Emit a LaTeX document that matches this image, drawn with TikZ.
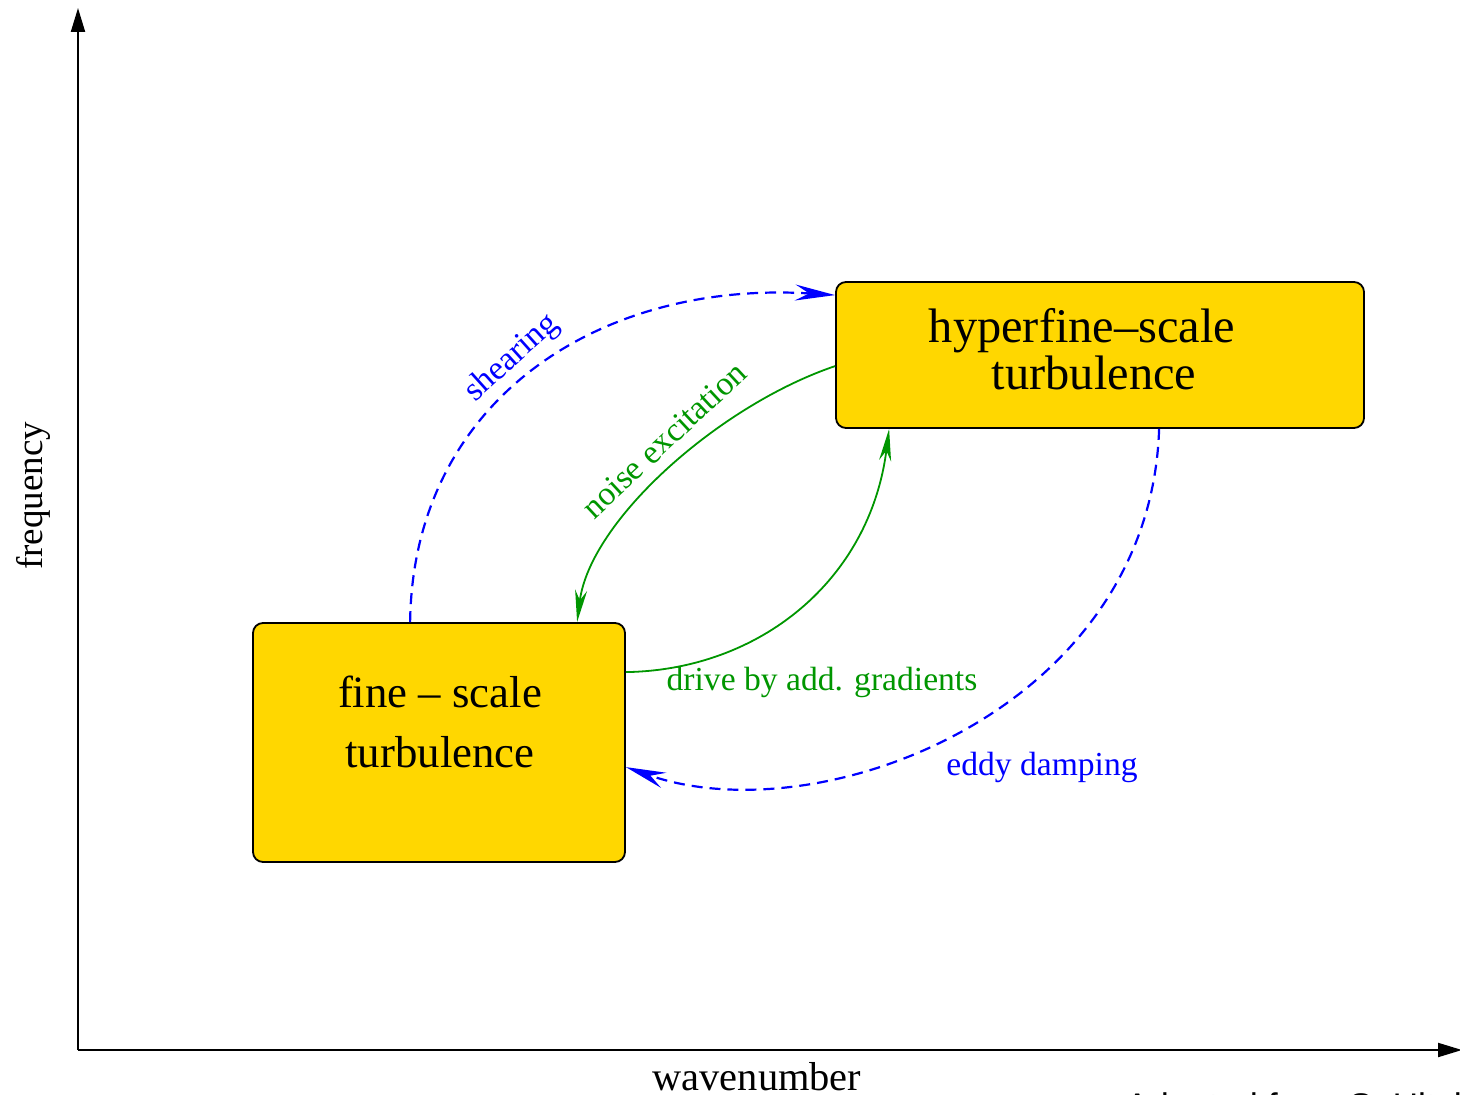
\documentclass[tikz,border=0pt]{standalone}
\usepackage{fontspec}
\setmainfont{Liberation Serif}
\newfontfamily\adaptfont{Liberation Sans}
\usetikzlibrary{arrows.meta}
\definecolor{boxgold}{RGB}{255,215,0}
\definecolor{linkgreen}{RGB}{0,150,0}
\definecolor{linkblue}{RGB}{0,0,255}
\begin{document}
\begin{tikzpicture}[x=0.5pt,y=-0.5pt,
  box/.style={draw=black, line width=0.9pt, fill=boxgold, rounded corners=5pt, inner sep=0pt},
  boxtext/.style={inner sep=0pt, anchor=base},
  lab/.style={inner sep=0pt, font=\fontsize{16.8}{20}\selectfont},
  axis/.style={draw=black, line width=1pt, -{Triangle[length=12pt,width=7pt]}},
  bluelink/.style={draw=linkblue, line width=1.1pt, dash pattern=on 5.5pt off 3.5pt,
    -{Stealth[length=20pt,width=8pt,inset=7pt]}},
  greenlink/.style={draw=linkgreen, line width=0.9pt,
    -{Stealth[length=16pt,width=6pt,inset=5pt]}}]
\useasboundingbox (0,0) rectangle (1460,1095);
\clip (0,0) rectangle (1460,1095);
% axes
\coordinate (origin) at (78,1050);
\coordinate (ytop) at (78,8);
\coordinate (xend) at (1462,1050);
\draw[axis] (origin) -- (ytop);
\draw[axis] (origin) -- (xend);
\node[inner sep=0pt, rotate=90, anchor=base, font=\fontsize{18.5}{22}\selectfont] (freq) at (42,496) {frequency};
\node[inner sep=0pt, anchor=base, font=\fontsize{20.2}{24}\selectfont] (wave) at (757,1090) {wavenumber};
\node[inner sep=0pt, anchor=base west, font=\adaptfont\fontsize{17.8}{21}\selectfont] (adapt) at (1125,1118) {Adapted from S. Hitchcock};
% boxes
\node[box, minimum width=186pt, minimum height=119.5pt] (fine) at (439,742.5) {};
\node[box, minimum width=264pt, minimum height=73pt] (hyper) at (1100,355) {};
\node[boxtext, font=\fontsize{22.4}{27}\selectfont] (fineA) at (440,707) {fine -- scale};
\node[boxtext, font=\fontsize{22.4}{27}\selectfont] (fineB) at (440,767) {turbulence};
\node[boxtext, font=\fontsize{24.2}{29}\selectfont] (hypA) at (1082,343) {hyperfine--scale};
\node[boxtext, font=\fontsize{24.2}{29}\selectfont] (hypB) at (1094,390) {turbulence};
% connector end points
\coordinate (shS) at ([xshift=79pt]fine.north west);
\coordinate (shE) at ([yshift=-7pt]hyper.north west);
\coordinate (neS) at ([yshift=-42.5pt]hyper.north west);
\coordinate (neE) at ([xshift=162.5pt]fine.north west);
\coordinate (drS) at ([yshift=-25pt]fine.north east);
\coordinate (drE) at ([xshift=27pt]hyper.south west);
\coordinate (edS) at ([xshift=162pt]hyper.south west);
\coordinate (edE) at ([yshift=-72.5pt]fine.north east);
% connectors
\draw[bluelink] (shS) .. controls (413,400) and (600,280) .. (shE);
\draw[greenlink] (neS) .. controls (720,405) and (590,520) .. (neE);
\draw[greenlink] (drS) .. controls (760,670) and (870,580) .. (drE);
\draw[bluelink] (edS) .. controls (1150,710) and (820,835) .. (edE);
% labels
\node[lab, text=linkblue, rotate=42] (shlab) at (512,358) {shearing};
\node[lab, text=linkgreen, rotate=43] (nelab) at (664,440) {noise excitation};
\node[lab, text=linkgreen, anchor=base] (drlab) at (822,690) {drive by add. gradients};
\node[lab, text=linkblue, anchor=base] (edlab) at (1042,775) {eddy damping};
\end{tikzpicture}
\end{document}
